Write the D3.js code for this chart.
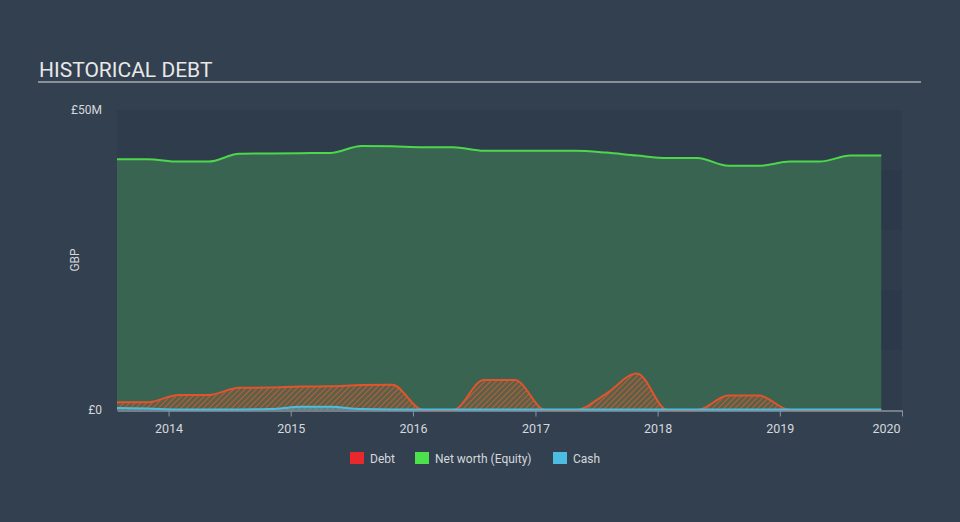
<!DOCTYPE html>
<html>
<head>
<meta charset="utf-8">
<script src="https://cdn.jsdelivr.net/npm/d3@7"></script>
<style>
html,body{margin:0;padding:0;background:#334050;}
svg{display:block;font-family:Roboto, "Open Sans", sans-serif;}
</style>
</head>
<body>
<svg id="chart" width="960" height="522"></svg>
<script>
const dates = ["2013-07-31","2013-10-31","2014-01-31","2014-04-30","2014-07-31","2014-10-31",
  "2015-01-31","2015-04-30","2015-07-31","2015-10-31","2016-01-31","2016-04-30",
  "2016-07-31","2016-10-31","2017-01-31","2017-04-30","2017-07-31","2017-10-31",
  "2018-01-31","2018-04-30","2018-07-31","2018-10-31","2019-01-31","2019-04-30",
  "2019-07-31","2019-10-31"];
const equity = [41.8,41.8,41.4,41.4,42.7,42.75,42.8,42.85,44.0,43.95,43.8,43.8,
  43.2,43.2,43.2,43.2,42.9,42.4,42.0,42.0,40.7,40.7,41.4,41.4,42.4,42.4];
const debt = [1.3,1.3,2.5,2.5,3.7,3.75,3.9,3.95,4.15,4.2,0,0,
  5.0,5.0,0,0,2.7,6.1,0,0,2.4,2.4,0,0,0,0];
const cash = [0.35,0.25,0.1,0.1,0.1,0.15,0.55,0.55,0.15,0.1,0.1,0.1,
  0.1,0.1,0.1,0.1,0.1,0.1,0.1,0.1,0.1,0.1,0.1,0.1,0.1,0.1];
const xTicks = [2014,2015,2016,2017,2018,2019,2020];
const yTicks = [0,50];
const legendItems = [
  {label:"Debt", color:"#e8282b"},
  {label:"Net worth (Equity)", color:"#4be24b"},
  {label:"Cash", color:"#4cbde0"}
];

(function(){
const svg = d3.select("#chart");
const parse = d3.timeParse("%Y-%m-%d");
const rows = dates.map((d,i)=>({date:parse(d), equity:equity[i], debt:debt[i], cash:cash[i]}));

const mL = 117, mR = 902, mT = 110, mB = 410;
const x = d3.scaleTime().domain([parse("2013-07-31"), new Date(2020,0,1)]).range([mL,mR]);
const y = d3.scaleLinear().domain([0,50]).range([mB,mT]);

// title
svg.append("text").attr("x",39).attr("y",77).attr("fill","#e8e8e8")
  .attr("font-size",21).text("HISTORICAL DEBT");
svg.append("line").attr("x1",38).attr("x2",921).attr("y1",82).attr("y2",82)
  .attr("stroke","#a7acb2").attr("stroke-width",1.5);

// plot bands
const bandVals = d3.range(0,50,10);
svg.append("g").selectAll("rect").data(bandVals).join("rect")
  .attr("x",mL).attr("width",mR-mL)
  .attr("y",d=>y(d+10)).attr("height",d=>y(d)-y(d+10))
  .attr("fill",(d,i)=> i%2===0 ? "#2f3c4c" : "#2c394a");

// x axis (drawn below series)
const xAxis = d3.axisBottom(x).tickValues(xTicks.map(t=>new Date(t,0,1)))
  .tickFormat(d3.timeFormat("%Y")).tickSize(6).tickSizeOuter(0);
const gx = svg.append("g").attr("transform",`translate(0,${mB+0.5})`).call(xAxis);
gx.select(".domain").attr("stroke","#8a939d").attr("stroke-width",1.5);
gx.selectAll(".tick line").attr("stroke","#8a939d");
gx.selectAll(".tick text").attr("fill","#d5d8dc").attr("font-size",12.5).attr("dy","1.1em")
  .attr("font-family","Roboto, sans-serif");
gx.selectAll(".tick").filter(d=>d.getFullYear()===2020).select("text").attr("dx",-16);

// hatch pattern
const defs = svg.append("defs");
const pat = defs.append("pattern").attr("id","hatch").attr("patternUnits","userSpaceOnUse")
  .attr("width",4).attr("height",4).attr("patternTransform","rotate(45)");
pat.append("rect").attr("width",4).attr("height",4).attr("fill","#7a5a3e").attr("opacity",0.55);
pat.append("line").attr("x1",0).attr("y1",0).attr("x2",0).attr("y2",4)
  .attr("stroke","#d0603a").attr("stroke-width",1.6);

const curve = d3.curveMonotoneX;

// equity area
svg.append("path").datum(rows)
  .attr("d", d3.area().curve(curve).x(d=>x(d.date)).y0(y(0)).y1(d=>y(d.equity)))
  .attr("fill","#3a6651").attr("opacity",0.95);
svg.append("path").datum(rows)
  .attr("d", d3.line().curve(curve).x(d=>x(d.date)).y(d=>y(d.equity)))
  .attr("fill","none").attr("stroke","#4cd84a").attr("stroke-width",2);

// debt
svg.append("path").datum(rows)
  .attr("d", d3.area().curve(curve).x(d=>x(d.date)).y0(y(0)).y1(d=>y(d.debt)))
  .attr("fill","url(#hatch)");
svg.append("path").datum(rows)
  .attr("d", d3.line().curve(curve).x(d=>x(d.date)).y(d=>y(d.debt)))
  .attr("fill","none").attr("stroke","#e2542c").attr("stroke-width",2);

// cash
svg.append("path").datum(rows)
  .attr("d", d3.area().curve(curve).x(d=>x(d.date)).y0(y(0)).y1(d=>y(d.cash)))
  .attr("fill","#4cbde0").attr("opacity",0.4);
svg.append("path").datum(rows)
  .attr("d", d3.line().curve(curve).x(d=>x(d.date)).y(d=>y(d.cash)))
  .attr("fill","none").attr("stroke","#4cbde0").attr("stroke-width",2);

// y labels
svg.append("g").selectAll("text").data(yTicks).join("text")
  .attr("x",102).attr("y",d=>y(d)+4).attr("text-anchor","end")
  .attr("fill","#d5d8dc").attr("font-size",12)
  .text(d=> d===0 ? "£0" : "£"+d+"M");
svg.append("text").attr("transform","translate(79,260) rotate(-90)")
  .attr("text-anchor","middle").attr("fill","#d5d8dc").attr("font-size",12).text("GBP");

// legend
const lx = [350, 415, 553];
const lg = svg.append("g").selectAll("g").data(legendItems).join("g")
  .attr("transform",(d,i)=>`translate(${lx[i]},452)`);
lg.append("rect").attr("width",14).attr("height",12).attr("fill",d=>d.color);
lg.append("text").attr("x",20).attr("y",10.5).attr("fill","#d5d8dc").attr("font-size",12)
  .text(d=>d.label);
})();
</script>
</body>
</html>
